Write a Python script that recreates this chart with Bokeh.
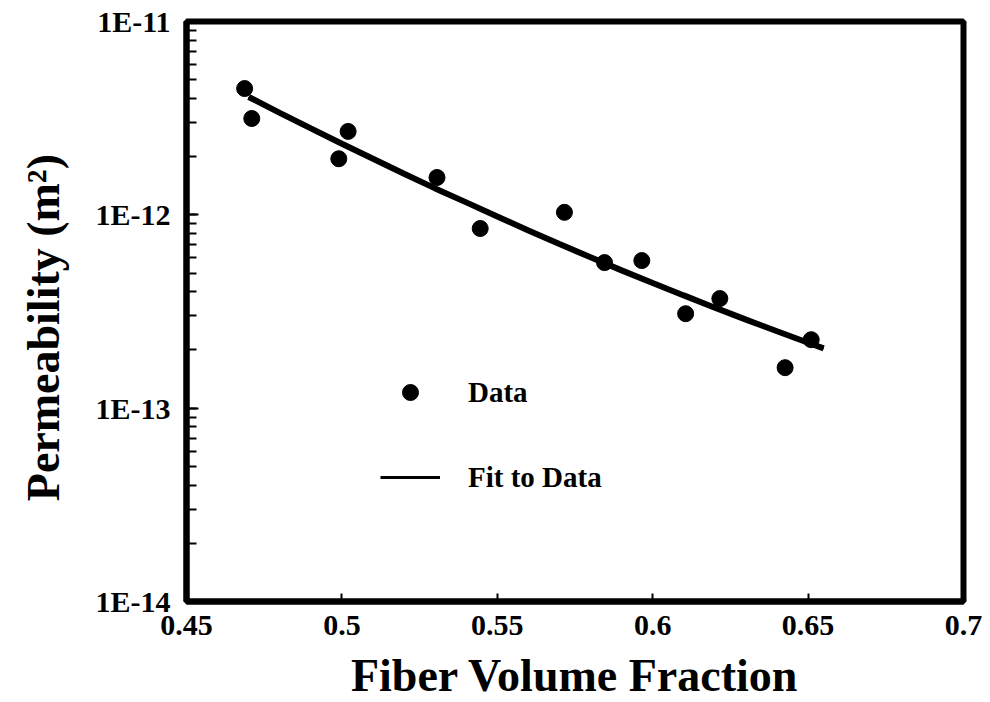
from bokeh.plotting import figure
from bokeh.models import (FixedTicker, LogTicker, CustomJSTickFormatter, Legend, LegendItem,
                          ColumnDataSource)
from bokeh.embed import file_html
from bokeh.resources import INLINE

# Data
data_vf = [0.4687, 0.4710, 0.4990, 0.5020, 0.5306, 0.5445, 0.5716, 0.5845,
           0.5965, 0.6106, 0.6216, 0.6426, 0.6510]
data_perm = [4.50e-12, 3.15e-12, 1.95e-12, 2.70e-12, 1.56e-12, 8.5e-13, 1.03e-12,
             5.66e-13, 5.80e-13, 3.08e-13, 3.69e-13, 1.62e-13, 2.26e-13]

fit_vf = [0.470, 0.480, 0.490, 0.500, 0.510, 0.520, 0.530, 0.540, 0.550, 0.560,
          0.570, 0.580, 0.590, 0.600, 0.610, 0.620, 0.630, 0.640, 0.650, 0.655]
fit_perm = [4.07e-12, 3.37e-12, 2.80e-12, 2.33e-12, 1.95e-12, 1.63e-12, 1.37e-12,
            1.16e-12, 9.8e-13, 8.3e-13, 7.06e-13, 6.03e-13, 5.16e-13, 4.44e-13,
            3.83e-13, 3.31e-13, 2.87e-13, 2.50e-13, 2.18e-13, 2.04e-13]

x_ticks = [0.45, 0.5, 0.55, 0.6, 0.65, 0.7]

FONT = "Liberation Serif"

p = figure(width=990, height=702, output_backend="svg", toolbar_location=None,
           y_axis_type="log", x_range=(0.45, 0.7), y_range=(1e-14, 1e-11),
           frame_width=777, frame_height=580,
           min_border_left=186, min_border_right=27, min_border_top=21, min_border_bottom=101)

p.grid.visible = False
p.outline_line_color = "black"
p.outline_line_width = 6
p.background_fill_color = "white"
p.border_fill_color = "white"

p.yaxis.ticker = LogTicker(desired_num_ticks=4, num_minor_ticks=10, mantissas=[1])
p.yaxis.formatter = CustomJSTickFormatter(code='return "1E" + Math.round(Math.log10(tick));')
p.xaxis.ticker = FixedTicker(ticks=x_ticks)
p.xaxis.formatter = CustomJSTickFormatter(code='return String(parseFloat(tick.toFixed(2)));')

for ax in (p.xaxis[0], p.yaxis[0]):
    ax.axis_line_width = 6
    ax.axis_line_color = "black"
    ax.major_tick_line_color = "black"
    ax.minor_tick_line_color = "black"
    ax.major_tick_out = 0
    ax.minor_tick_out = 0
    ax.major_tick_line_width = 2
    ax.minor_tick_line_width = 2
    ax.major_label_text_font = FONT
    ax.major_label_text_font_style = "bold"
    ax.major_label_text_font_size = "30px"
    ax.major_label_text_color = "black"
    ax.axis_label_text_font = FONT
    ax.axis_label_text_font_style = "bold"
    ax.axis_label_text_color = "black"

p.yaxis.major_tick_in = 12
p.yaxis.minor_tick_in = 10
p.xaxis.major_tick_in = 8
p.xaxis.minor_tick_in = 0
p.yaxis.major_label_standoff = 16
p.xaxis.major_label_standoff = 14

src_d = ColumnDataSource(dict(x=data_vf, y=data_perm))
src_f = ColumnDataSource(dict(x=fit_vf, y=fit_perm))

# thin copy of the fit line (hidden under the thick one) used for the legend key
r_leg_line = p.line("x", "y", source=src_f, line_color="black", line_width=3)
r_fit = p.line("x", "y", source=src_f, line_color="black", line_width=6)
r_pts = p.scatter("x", "y", source=src_d, size=16, marker="circle",
                  fill_color="black", line_color="black")

legend = Legend(items=[LegendItem(label="Data", renderers=[r_pts]),
                       LegendItem(label="Fit to Data", renderers=[r_leg_line])],
                location=(194, 104), orientation="vertical",
                border_line_color=None, background_fill_alpha=0,
                padding=0, margin=0, spacing=45,
                glyph_width=60, glyph_height=40, label_height=40,
                label_standoff=28,
                label_text_font=FONT, label_text_font_style="bold",
                label_text_font_size="29px", label_text_color="black")
p.add_layout(legend, "center")

p.xaxis.axis_label = "Fiber Volume Fraction"
p.xaxis.axis_label_text_font_size = "46px"
p.xaxis.axis_label_standoff = 12

p.yaxis.axis_label = "Permeability (m\u00b2)\u2002\u2009"
p.yaxis.axis_label_text_font_size = "46px"
p.yaxis.axis_label_standoff = 24

open("out.html", "w").write(file_html(p, INLINE))
